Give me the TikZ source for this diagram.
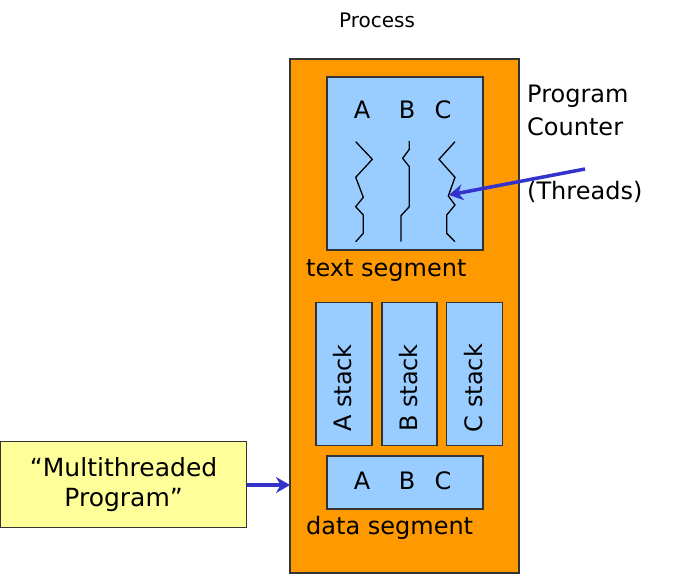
\documentclass[tikz,border=0pt]{standalone}
\usepackage{fontspec}
\setmainfont{DejaVu Sans}
\usetikzlibrary{arrows.meta}
\definecolor{procorange}{HTML}{FF9900}
\definecolor{segblue}{HTML}{99CCFF}
\definecolor{noteyellow}{HTML}{FFFF99}
\definecolor{arrowblue}{HTML}{3333CC}
\definecolor{edge}{HTML}{333333}
\tikzset{
  seg/.style={draw=edge, line width=1.2pt, fill=segblue},
  thread/.style={draw=black, line width=1.3pt, line join=miter},
  ptr/.style={draw=arrowblue, line width=3.5pt, -{Stealth[length=14pt,width=16pt]}},
  lbl/.style={font=\fontsize{24}{28}\selectfont, inner sep=0pt},
  small/.style={font=\fontsize{20}{24}\selectfont, inner sep=0pt},
}
\begin{document}
\begin{tikzpicture}[x=1pt,y=-1pt]
\useasboundingbox (0,0) rectangle (684,575);
% process
\node[small] (ptitle) at (377,20) {Process};
\draw[draw=edge, line width=1.2pt, fill=procorange] (290,59) rectangle (519,573);
\coordinate (procleft) at (290,485);
% text segment
\draw[seg] (327,77) rectangle (483,250);
\node[lbl] (ta) at (362,110) {A};
\node[lbl] (tb) at (407,110) {B};
\node[lbl] (tc) at (443,110) {C};
\draw[thread] (355.7,141.7) -- (372.3,159.3) -- (355.7,177.3) -- (363.3,197.3) -- (355.7,206.7) -- (363.3,215) -- (363.3,233.3) -- (355.7,241.7);
\draw[thread] (409.3,141) -- (409.3,149.3) -- (402.7,158.3) -- (409.3,166.7) -- (409.3,206.7) -- (401,215.7) -- (401,241.7);
\draw[thread] (455,141.7) -- (439,159.3) -- (455,177.3) -- (448.3,196) -- (455,205) -- (446.7,215) -- (446.7,233.3) -- (455,241.7);
\coordinate (cpc) at (449,195);
\node[lbl, anchor=west] (tseg) at (306,271) {text segment};
% stacks
\draw[seg] (316,302.7) rectangle (372,445.7);
\draw[seg] (382,302.7) rectangle (437,445.7);
\draw[seg] (446.7,302.7) rectangle (502.3,445.7);
\node[lbl, rotate=90] (sa) at (343,388) {A stack};
\node[lbl, rotate=90] (sb) at (408.5,388) {B stack};
\node[lbl, rotate=90] (sc) at (473.5,388) {C stack};
% data segment
\draw[seg] (327,456) rectangle (483,509);
\node[lbl] (da) at (362,481) {A};
\node[lbl] (db) at (407,481) {B};
\node[lbl] (dc) at (443,481) {C};
\node[lbl, anchor=west] (dseg) at (306,528) {data segment};
% program counter
\node[lbl, anchor=west] (pc) at (527,96) {Program};
\node[lbl, anchor=west] (pc2) at (527,127) {Counter};
\node[lbl, anchor=west] (thr) at (527,192) {(Threads)};
\coordinate (pcstart) at (585,169);
\draw[ptr] (pcstart) -- (cpc);
% multithreaded program
\node[draw=edge, line width=1.2pt, fill=noteyellow, minimum width=246pt, minimum height=86pt, anchor=north west, align=center, font=\fontsize{25}{30}\selectfont] (mp) at (0,441) {``Multithreaded\\Program''};
\draw[ptr] (mp.east |- procleft) -- (procleft);
\end{tikzpicture}
\end{document}
